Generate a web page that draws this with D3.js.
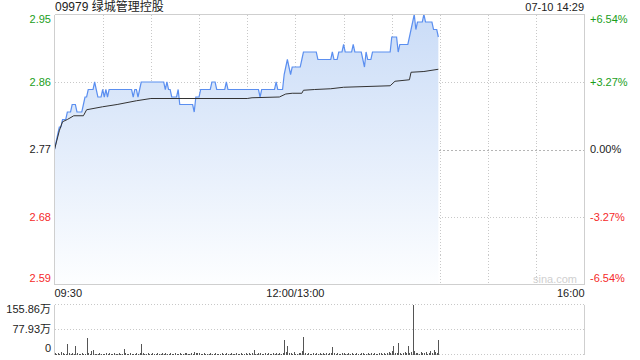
<!DOCTYPE html>
<meta charset="utf-8">
<style>
body { margin: 0; background: #fff; }
text { font-family: Arial, "Liberation Sans", "Noto Sans CJK SC", sans-serif; font-size: 11px; }
.grid line { stroke: #c8c8c8; stroke-dasharray: 1,2; shape-rendering: crispEdges; }
.frame line { stroke: #cfcfcf; shape-rendering: crispEdges; }
</style>
<body>
  <div id="chart"></div>
</body>
<script src="https://d3js.org/d3.v7.min.js"></script>
<script>
// 标题
var title = "09979 绿城管理控股",
    stamp = "07-10 14:29";

var priceTicks = [2.95, 2.86, 2.77, 2.68, 2.59];
var pctTicks = ["+6.54%", "+3.27%", "0.00%", "-3.27%", "-6.54%"];
var timeLabels = ["09:30", "12:00/13:00", "16:00"];
var volTicks = [155.86, 77.93, 0];
var volLabels = ["155.86万", "77.93万", "0"];

// 每分钟价格 (09:30 起, 13:00 接续第150分钟)
var prices = [
  2.77, 2.78, 2.79, 2.80, 2.80, 2.81, 2.81, 2.81, 2.82, 2.82,
  2.82, 2.83, 2.83, 2.83, 2.82, 2.82, 2.82, 2.82, 2.83, 2.84,
  2.84, 2.85, 2.85, 2.85, 2.85, 2.86, 2.85, 2.84, 2.84, 2.84,
  2.85, 2.84, 2.85, 2.84, 2.85, 2.85, 2.85, 2.85, 2.85, 2.85,
  2.85, 2.85, 2.85, 2.85, 2.85, 2.85, 2.85, 2.85, 2.85, 2.84,
  2.85, 2.85, 2.84, 2.85, 2.86, 2.86, 2.86, 2.86, 2.86, 2.86,
  2.86, 2.86, 2.86, 2.86, 2.86, 2.86, 2.86, 2.86, 2.86, 2.85,
  2.86, 2.85, 2.85, 2.84, 2.84, 2.84, 2.84, 2.85, 2.83, 2.83,
  2.83, 2.83, 2.83, 2.83, 2.83, 2.83, 2.83, 2.82, 2.84, 2.84,
  2.84, 2.85, 2.85, 2.85, 2.85, 2.85, 2.85, 2.85, 2.86, 2.86,
  2.86, 2.85, 2.85, 2.85, 2.85, 2.85, 2.85, 2.86, 2.85, 2.85,
  2.85, 2.85, 2.85, 2.85, 2.85, 2.85, 2.85, 2.85, 2.85, 2.85,
  2.85, 2.85, 2.85, 2.85, 2.85, 2.85, 2.85, 2.85, 2.84, 2.85,
  2.85, 2.85, 2.85, 2.85, 2.85, 2.85, 2.85, 2.85, 2.86, 2.85,
  2.85, 2.85, 2.85, 2.87, 2.88, 2.89, 2.88, 2.87, 2.88, 2.88,
  2.88, 2.88, 2.88, 2.88, 2.89, 2.90, 2.90, 2.90, 2.90, 2.90,
  2.90, 2.90, 2.90, 2.90, 2.89, 2.89, 2.89, 2.89, 2.89, 2.89,
  2.89, 2.89, 2.89, 2.90, 2.89, 2.89, 2.89, 2.90, 2.90, 2.90,
  2.91, 2.90, 2.90, 2.90, 2.90, 2.90, 2.91, 2.90, 2.90, 2.90,
  2.90, 2.90, 2.89, 2.88, 2.90, 2.89, 2.89, 2.89, 2.90, 2.90,
  2.90, 2.90, 2.90, 2.90, 2.90, 2.90, 2.90, 2.90, 2.90, 2.90,
  2.92, 2.92, 2.92, 2.92, 2.90, 2.91, 2.91, 2.91, 2.91, 2.91,
  2.91, 2.92, 2.93, 2.94, 2.95, 2.93, 2.94, 2.94, 2.94, 2.94,
  2.95, 2.94, 2.94, 2.94, 2.94, 2.94, 2.93, 2.93, 2.93, 2.92
];

// 均价线读数
var avgMin = [0, 3, 5, 8, 12, 18, 20, 30, 39, 51, 60, 80, 120, 123, 140, 144, 148, 154, 155, 162, 172, 180, 209, 212, 221, 222, 230, 239];
var avgVal = [2.77, 2.795, 2.807, 2.81, 2.815, 2.815, 2.823, 2.827, 2.83, 2.835, 2.838, 2.838, 2.838, 2.839, 2.840, 2.844, 2.845, 2.845, 2.849, 2.850, 2.851, 2.853, 2.855, 2.861, 2.863, 2.873, 2.874, 2.877];

// 成交量 (万)
var volumes = [
  6, 3, 4, 2, 9, 5, 3, 2, 34, 4,
  3, 5, 2, 28, 6, 3, 2, 4, 3, 2,
  50, 5, 3, 12, 14, 3, 2, 3, 4, 2,
  3, 2, 4, 3, 5, 2, 3, 6, 2, 3,
  4, 2, 3, 16, 4, 3, 2, 5, 3, 2,
  3, 4, 2, 5, 34, 6, 3, 2, 4, 3,
  2, 4, 3, 2, 5, 3, 2, 4, 3, 6,
  2, 3, 4, 2, 3, 5, 2, 3, 4, 2,
  3, 6, 4, 3, 2, 5, 3, 8, 4, 6,
  5, 3, 2, 4, 3, 2, 3, 4, 2, 3,
  4, 3, 2, 3, 5, 2, 3, 4, 2, 3,
  4, 2, 3, 5, 3, 2, 4, 3, 2, 6,
  3, 4, 2, 5, 15, 3, 2, 4, 6, 3,
  2, 4, 3, 5, 2, 3, 4, 2, 6, 3,
  4, 2, 5, 44, 8, 25, 6, 4, 3, 9,
  3, 2, 4, 5, 12, 53, 6, 3, 4, 2,
  3, 5, 2, 4, 3, 6, 2, 4, 3, 5,
  2, 6, 4, 22, 5, 3, 4, 2, 3, 5,
  4, 3, 2, 5, 3, 4, 2, 3, 5, 2,
  3, 4, 6, 3, 2, 4, 3, 5, 2, 4,
  3, 2, 5, 4, 3, 6, 2, 4, 8, 5,
  12, 25, 4, 6, 37, 5, 3, 4, 9, 6,
  25, 5, 8, 155.86, 12, 4, 6, 3, 9, 5,
  4, 7, 3, 5, 10, 4, 15, 8, 6, 46
];

var svgw = 640, svgh = 360;
var svg = d3.select("#chart").append("svg")
    .attr("width", svgw)
    .attr("height", svgh);

var x = d3.scaleLinear().domain([0, 330]).range([54.5, 584.5]);
var y = d3.scaleLinear().domain([2.59, 2.95]).range([284.5, 14.5]);
var yv = d3.scaleLinear().domain([0, 155.86]).range([354.5, 304.5]);

function tickColor(i, n) {
  if (i < Math.floor(n / 2)) return "#1a9e1a";
  if (i > Math.floor(n / 2)) return "#f52a2a";
  return "#222";
}

// 渐变填充
var defs = svg.append("defs");
var grad = defs.append("linearGradient")
    .attr("id", "fillGrad")
    .attr("gradientUnits", "userSpaceOnUse")
    .attr("x1", 0).attr("y1", y(2.95))
    .attr("x2", 0).attr("y2", y(2.59));
grad.append("stop").attr("offset", "0%").attr("stop-color", "#cadcf7");
grad.append("stop").attr("offset", "100%").attr("stop-color", "#fdfeff");

// 网格
var grid = svg.append("g").attr("class", "grid");
grid.selectAll("line.h")
    .data(priceTicks.slice(1, priceTicks.length - 1))
    .enter().append("line")
    .attr("class", "h")
    .attr("x1", x(0)).attr("x2", x(330))
    .attr("y1", function(d) { return Math.round(y(d)) + 0.5; })
    .attr("y2", function(d) { return Math.round(y(d)) + 0.5; })
    .style("stroke-dasharray", function(d) { return d === 2.77 ? "2,2" : null; })
    .style("stroke", function(d) { return d === 2.77 ? "#b5b5b5" : null; });
grid.selectAll("line.v")
    .data(d3.range(30, 330, 30))
    .enter().append("line")
    .attr("class", "v")
    .attr("x1", function(d) { return Math.round(x(d)) + 0.5; })
    .attr("x2", function(d) { return Math.round(x(d)) + 0.5; })
    .attr("y1", y(2.95)).attr("y2", y(2.59));

// 面积 + 价格线
var area = d3.area()
    .x(function(d, i) { return x(i); })
    .y0(y(2.59))
    .y1(function(d) { return y(d); });
svg.append("path")
    .datum(prices)
    .attr("d", area)
    .attr("fill", "url(#fillGrad)");

var line = d3.line()
    .x(function(d, i) { return x(i); })
    .y(function(d) { return y(d); });
svg.append("path")
    .datum(prices)
    .attr("d", line)
    .attr("fill", "none")
    .attr("stroke", "#5b8ff0")
    .attr("stroke-width", 1.2);

var avgLine = d3.line()
    .x(function(d) { return x(d[0]); })
    .y(function(d) { return y(d[1]); });
svg.append("path")
    .datum(d3.zip(avgMin, avgVal))
    .attr("d", avgLine)
    .attr("fill", "none")
    .attr("stroke", "#333")
    .attr("stroke-width", 1);

// 边框
var frame = svg.append("g").attr("class", "frame");
frame.append("line").attr("x1", x(0)).attr("x2", x(330)).attr("y1", 14.5).attr("y2", 14.5);
frame.append("line").attr("x1", x(0)).attr("x2", x(330)).attr("y1", 284.5).attr("y2", 284.5);
frame.append("line").attr("x1", x(0)).attr("x2", x(0)).attr("y1", 14.5).attr("y2", 284.5);
frame.append("line").attr("x1", x(330)).attr("x2", x(330)).attr("y1", 14.5).attr("y2", 284.5);

// 标签
svg.append("text").attr("x", 55).attr("y", 11)
    .style("font-size", "12px").attr("fill", "#222").text(title);
svg.append("text").attr("x", 584).attr("y", 11)
    .attr("text-anchor", "end").attr("fill", "#222").text(stamp);

function labelOffset(i, n) {
  if (i === 0) return 5;
  if (i === n - 1) return -6;
  return 0;
}

svg.selectAll("text.py")
    .data(priceTicks)
    .enter().append("text")
    .attr("class", "py")
    .attr("x", 51)
    .attr("y", function(d, i) { return y(d) + labelOffset(i, priceTicks.length); })
    .attr("dy", "0.35em")
    .attr("text-anchor", "end")
    .attr("fill", function(d, i) { return tickColor(i, priceTicks.length); })
    .text(function(d) { return d.toFixed(2); });

svg.selectAll("text.pp")
    .data(pctTicks)
    .enter().append("text")
    .attr("class", "pp")
    .attr("x", 590)
    .attr("y", function(d, i) { return y(priceTicks[i]) + labelOffset(i, pctTicks.length); })
    .attr("dy", "0.35em")
    .attr("fill", function(d, i) { return tickColor(i, pctTicks.length); })
    .text(function(d) { return d; });

svg.selectAll("text.tx")
    .data(timeLabels)
    .enter().append("text")
    .attr("class", "tx")
    .attr("x", function(d, i) { return x([0, 150, 330][i]); })
    .attr("y", 293)
    .attr("dy", "0.35em")
    .attr("text-anchor", function(d, i) { return ["start", "middle", "end"][i]; })
    .attr("fill", "#222")
    .text(function(d) { return d; });

svg.append("text").attr("x", 577).attr("y", 279).attr("dy", "0.35em")
    .attr("text-anchor", "end").attr("fill", "#d0d0d0").text("sina.com");

// 成交量
var vgrid = svg.append("g").attr("class", "grid");
vgrid.selectAll("line")
    .data(volTicks)
    .enter().append("line")
    .attr("x1", x(0)).attr("x2", x(330))
    .attr("y1", function(d) { return yv(d); })
    .attr("y2", function(d) { return yv(d); });
frame.append("line").attr("x1", x(0)).attr("x2", x(0)).attr("y1", yv(155.86)).attr("y2", yv(0));
frame.append("line").attr("x1", x(330)).attr("x2", x(330)).attr("y1", yv(155.86)).attr("y2", yv(0));

svg.append("g").selectAll("line")
    .data(volumes)
    .enter().append("line")
    .attr("x1", function(d, i) { return Math.round(x(i)) + 0.5; })
    .attr("x2", function(d, i) { return Math.round(x(i)) + 0.5; })
    .attr("y1", yv(0))
    .attr("y2", function(d) { return yv(d); })
    .attr("stroke", "#555")
    .attr("stroke-width", 1)
    .style("shape-rendering", "crispEdges");

svg.selectAll("text.vy")
    .data(volLabels)
    .enter().append("text")
    .attr("class", "vy")
    .attr("x", 51)
    .attr("y", function(d, i) { return yv(volTicks[i]) + labelOffset(i, volLabels.length); })
    .attr("dy", "0.35em")
    .attr("text-anchor", "end")
    .attr("fill", "#222")
    .text(function(d) { return d; });
</script>
